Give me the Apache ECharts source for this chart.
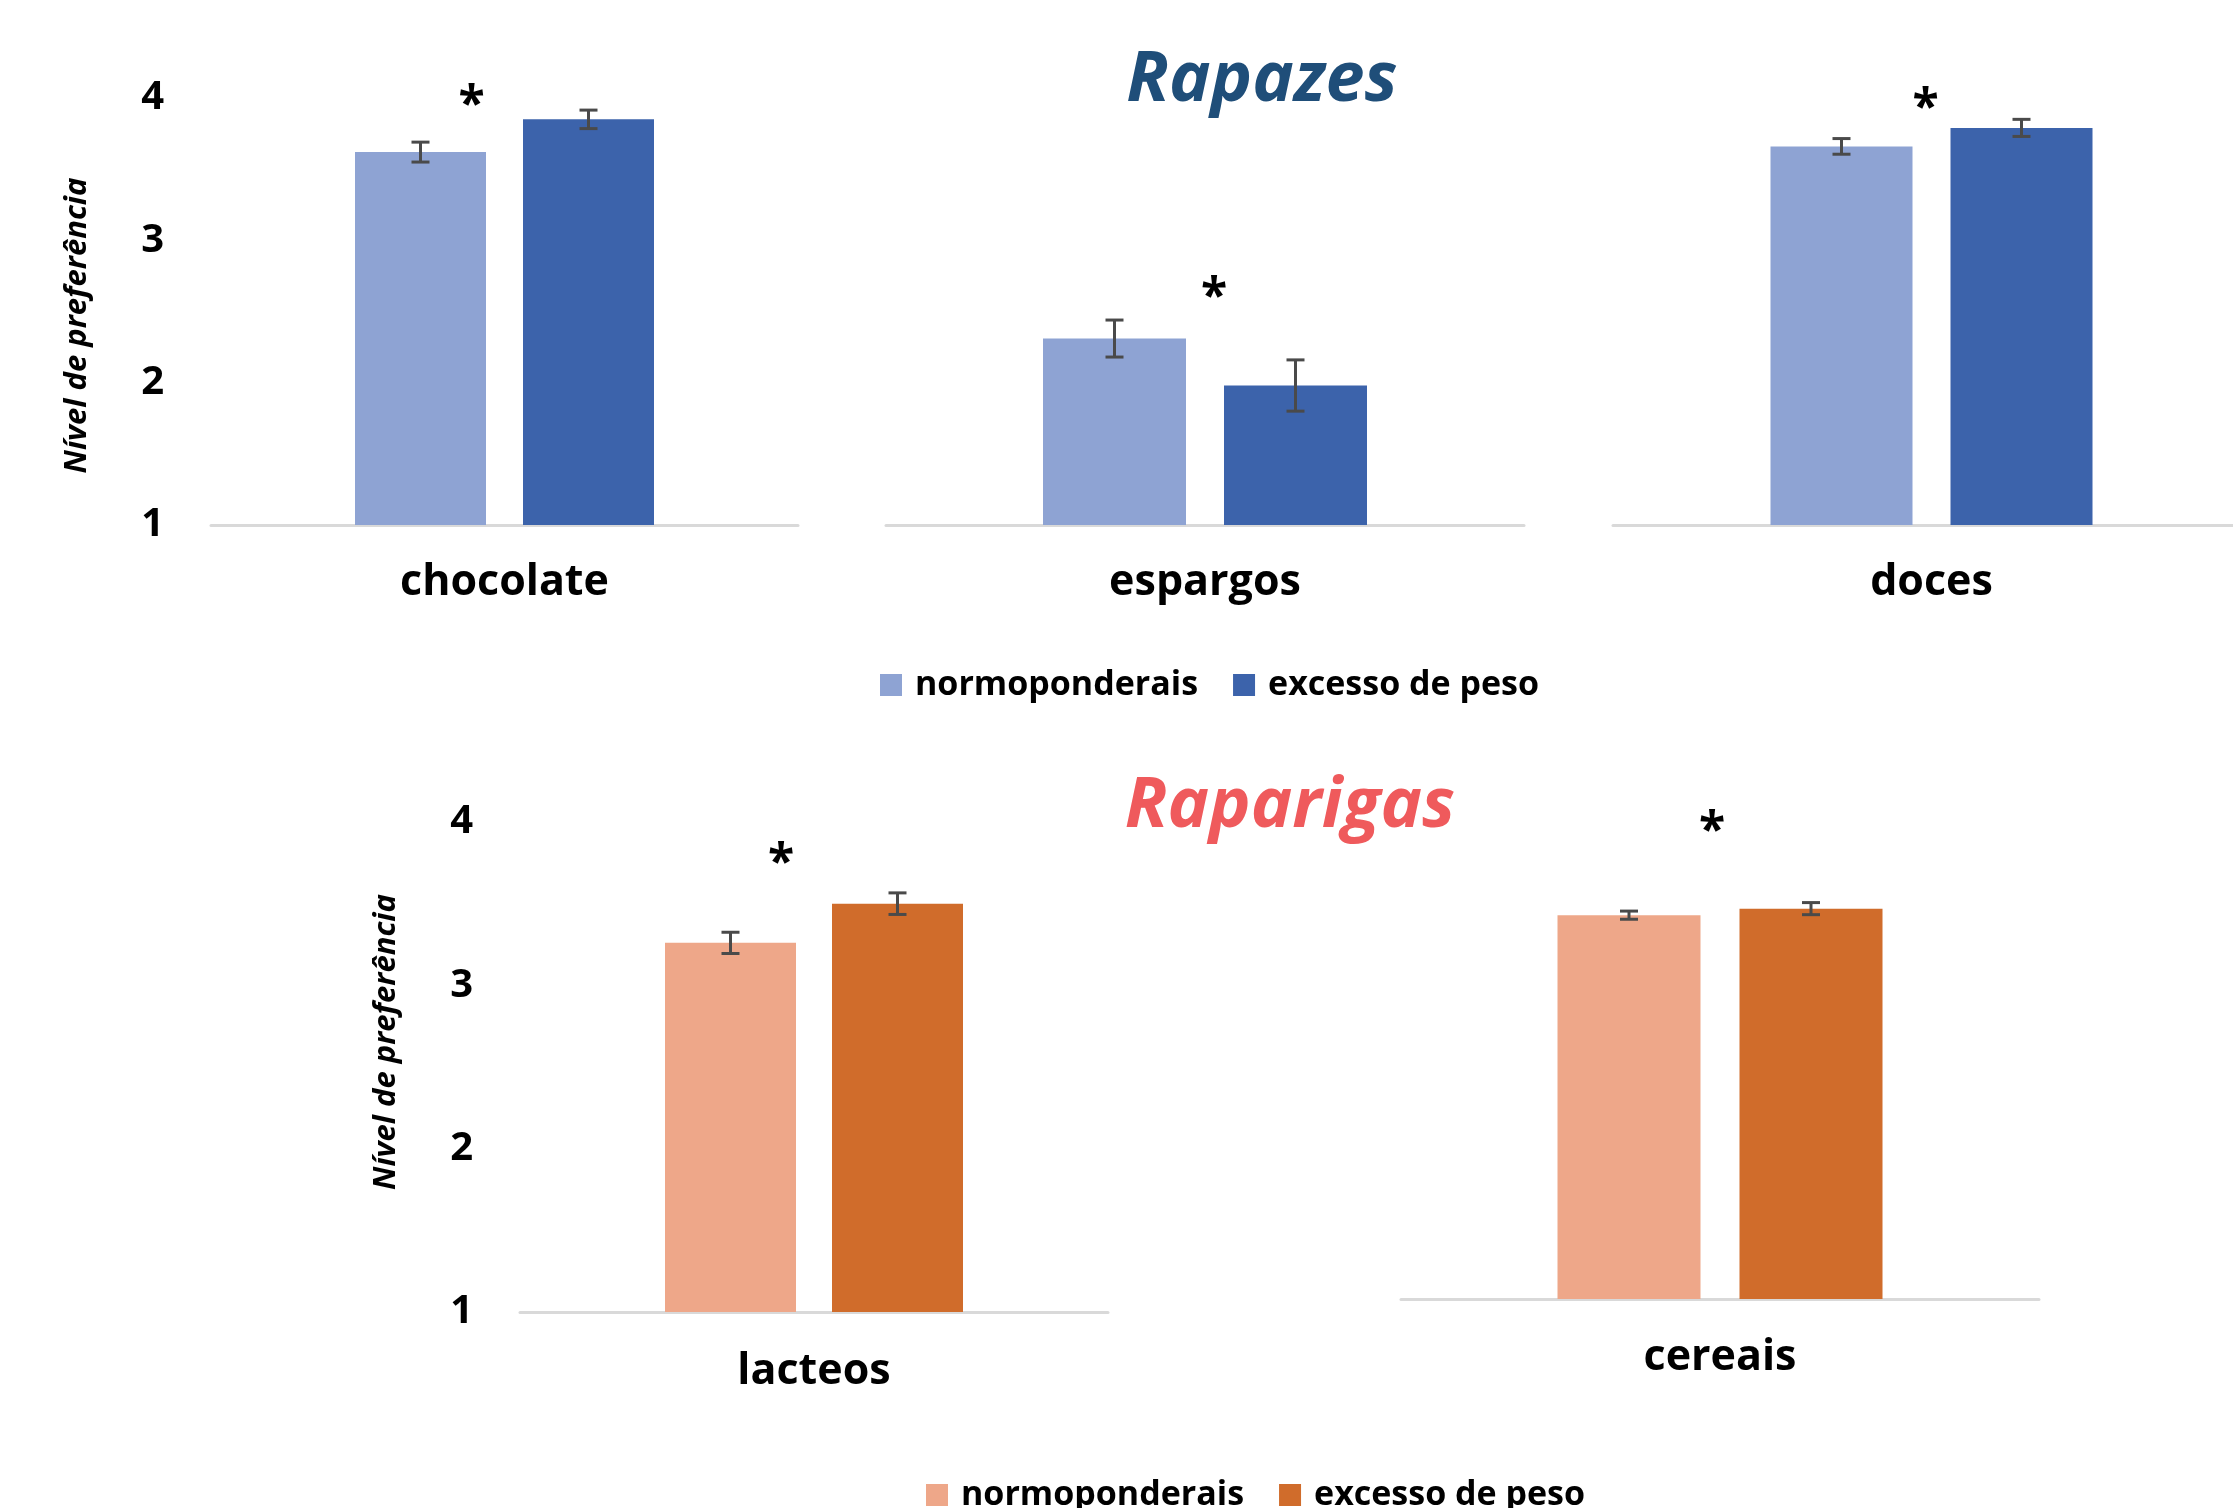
<!DOCTYPE html>
<html lang="pt">
<head>
<meta charset="utf-8">
<title>Nível de preferência</title>
<script src="https://cdn.jsdelivr.net/npm/echarts@6/dist/echarts.min.js"></script>
<style>html,body{margin:0;padding:0;background:#fff;}</style>
</head>
<body>
<div id="main" style="width:2233px;height:1508px;"></div>
<script>
    // series / groups
    const seriesNames = ['normoponderais', 'excesso de peso'];

    // Rapazes
    const boyFoods = ['chocolate', 'espargos', 'doces'];
    const boyNormal = [3.62, 2.31, 3.66];
    const boyOver = [3.85, 1.98, 3.79];
    const boyNormalErr = [0.07, 0.13, 0.055];
    const boyOverErr = [0.065, 0.18, 0.06];
    const boyStar = [4.01, 2.66, 3.99];

    // Raparigas
    const girlFoods = ['lacteos', 'cereais'];
    const girlNormal = [3.26, 3.35];
    const girlOver = [3.50, 3.39];
    const girlNormalErr = [0.065, 0.025];
    const girlOverErr = [0.066, 0.037];
    const girlStar = [3.80, 3.92];

    // y scale
    const yMin = 1, yMax = 4, yStep = 1;

    const blue = ['#8ea3d3', '#3c63ab'];
    const orange = ['#eea789', '#d06c2b'];
    const font = 'Open Sans';

    // one box per small chart (pixels)
    const boxes = [
        {left: 211, top: 98, width: 587, height: 427, bar: 131, gap: 37, showY: true, labelMargin: 36, starDx: -33, namePad: [0, 28, 0, 0]},
        {left: 886, top: 98, width: 638, height: 427, bar: 143, gap: 38, showY: false, labelMargin: 36, starDx: 9},
        {left: 1613, top: 98, width: 637, height: 427, bar: 142, gap: 38, showY: false, labelMargin: 36, starDx: -6},
        {left: 520, top: 822, width: 588, height: 490, bar: 131, gap: 36, showY: true, labelMargin: 38, starDx: -33, namePad: [0, 0, 0, 50]},
        {left: 1401, top: 809, width: 638, height: 490, bar: 143, gap: 39, showY: false, labelMargin: 37, starDx: -8}
    ];

    const foods = boyFoods.concat(girlFoods);
    const normal = boyNormal.concat(girlNormal);
    const over = boyOver.concat(girlOver);
    const normalErr = boyNormalErr.concat(girlNormalErr);
    const overErr = boyOverErr.concat(girlOverErr);
    const stars = boyStar.concat(girlStar);

    function errorBar(b) {
        return function (params, api) {
            const v = api.value(1), e = api.value(2);
            const x = api.coord([0, v])[0] + api.value(3) * (b.bar + b.gap) / 2;
            const hi = api.coord([0, v + e])[1];
            const lo = api.coord([0, v - e])[1];
            const st = {stroke: '#4a4a4a', lineWidth: 3};
            return {
                type: 'group',
                children: [
                    {type: 'line', shape: {x1: x, y1: hi, x2: x, y2: lo}, style: st},
                    {type: 'line', shape: {x1: x - 9, y1: hi, x2: x + 9, y2: hi}, style: st},
                    {type: 'line', shape: {x1: x - 9, y1: lo, x2: x + 9, y2: lo}, style: st}
                ]
            };
        };
    }

    function starMark(b) {
        return function (params, api) {
            const c = api.coord([0, api.value(1)]);
            return {
                type: 'text',
                x: c[0] + b.starDx,
                y: c[1] + 10,
                style: {text: '*', fontSize: 48, fontWeight: 'bold', fontFamily: font,
                    fill: '#000', align: 'center', verticalAlign: 'middle'}
            };
        };
    }

    const grid = [], xAxis = [], yAxis = [], series = [];
    foods.forEach(function (food, i) {
        const b = boxes[i];
        const col = i < boyFoods.length ? blue : orange;
        grid.push({left: b.left, top: b.top, width: b.width, height: b.height, outerBoundsMode: 'none'});
        xAxis.push({
            type: 'category', gridIndex: i, data: [food],
            axisTick: {show: false},
            axisLine: {lineStyle: {color: '#d9d9d9', width: 3}},
            axisLabel: {margin: b.labelMargin, fontSize: 43, lineHeight: 43, fontWeight: 'bold',
                fontFamily: font, color: '#000'}
        });
        yAxis.push({
            type: 'value', gridIndex: i, min: yMin, max: yMax, interval: yStep,
            splitLine: {show: false}, axisLine: {show: false}, axisTick: {show: false},
            axisLabel: {show: b.showY, margin: 47, fontSize: 40, fontWeight: 'bold',
                fontFamily: font, color: '#000'},
            name: b.showY ? 'Nível de preferência' : '',
            nameLocation: 'middle', nameGap: 118, nameRotate: 90,
            nameTextStyle: {fontSize: 31, fontWeight: 'bold', fontStyle: 'italic',
                fontFamily: font, color: '#000', padding: b.namePad || 0}
        });
        series.push({
            type: 'bar', name: seriesNames[0], xAxisIndex: i, yAxisIndex: i,
            data: [normal[i]], barWidth: b.bar, barGap: (b.gap / b.bar * 100) + '%',
            itemStyle: {color: col[0]}
        });
        series.push({
            type: 'bar', name: seriesNames[1], xAxisIndex: i, yAxisIndex: i,
            data: [over[i]], barWidth: b.bar, barGap: (b.gap / b.bar * 100) + '%',
            itemStyle: {color: col[1]}
        });
        series.push({
            type: 'custom', xAxisIndex: i, yAxisIndex: i, z: 5,
            data: [[0, normal[i], normalErr[i], -1], [0, over[i], overErr[i], 1]],
            renderItem: errorBar(b)
        });
        series.push({
            type: 'custom', xAxisIndex: i, yAxisIndex: i, z: 5,
            data: [[0, stars[i]]],
            renderItem: starMark(b)
        });
    });

    const legendText = {fontSize: 34, lineHeight: 34, fontWeight: 'bold', fontFamily: font,
        color: '#000', padding: [0, 0, 0, 8]};

    const option = {
        backgroundColor: '#fff',
        animation: false,
        title: [
            {text: 'Rapazes', left: 1262, top: 46, textAlign: 'center', padding: 0,
                textStyle: {fontSize: 70, lineHeight: 70, fontWeight: 'bold', fontStyle: 'italic',
                    fontFamily: font, color: '#1f4e79'}},
            {text: 'Raparigas', left: 1290, top: 772, textAlign: 'center', padding: 0,
                textStyle: {fontSize: 70, lineHeight: 70, fontWeight: 'bold', fontStyle: 'italic',
                    fontFamily: font, color: '#ef5a5c'}}
        ],
        legend: [
            {data: seriesNames.map(function (n, k) { return {name: n, itemStyle: {color: blue[k]}}; }),
                left: 880, top: 668, padding: 0, icon: 'rect', itemWidth: 22, itemHeight: 22,
                itemGap: 35, textStyle: legendText, selectedMode: false},
            {data: seriesNames.map(function (n, k) { return {name: n, itemStyle: {color: orange[k]}}; }),
                left: 926, top: 1478, padding: 0, icon: 'rect', itemWidth: 22, itemHeight: 22,
                itemGap: 35, textStyle: legendText, selectedMode: false}
        ],
        grid: grid,
        xAxis: xAxis,
        yAxis: yAxis,
        series: series
    };

    const myChart = echarts.init(document.getElementById('main'));
    myChart.setOption(option);
</script>
</body>
</html>
